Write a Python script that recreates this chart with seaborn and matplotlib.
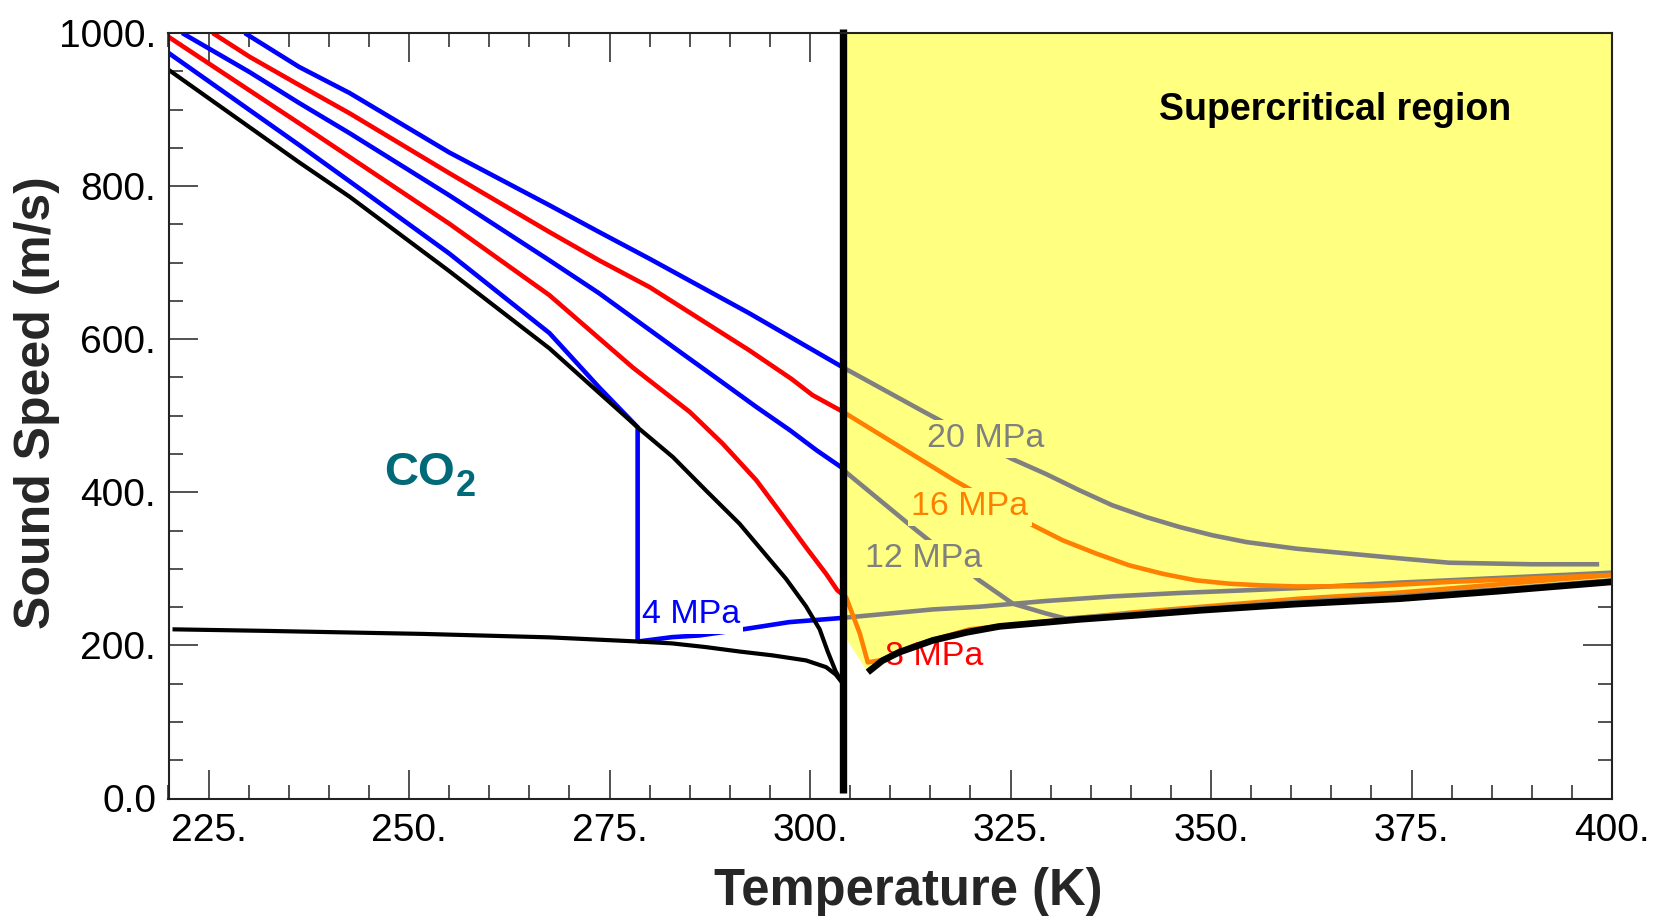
import matplotlib
matplotlib.use("Agg")
import matplotlib.pyplot as plt
import seaborn as sns
from matplotlib.ticker import MultipleLocator, FuncFormatter

# ---------------------------------------------------------------------------
# CO2 sound speed (m/s) versus temperature (K) along isobars
# ---------------------------------------------------------------------------
T_CRIT = 304.13  # critical temperature of CO2, K

# Saturation dome: saturated liquid and saturated vapour branches
sat_liq_T = [220.0, 230.1, 236.3, 242.6, 255.0, 267.5, 278.7, 282.9, 287.0, 291.2, 294.5,
             297.0, 299.5, 301.2, 302.2, 303.2, 304.1]
sat_liq_v = [952, 877, 831, 786, 689, 588, 483, 446, 402.6, 359, 318, 287, 251, 221, 192, 166, 150]
sat_vap_T = [220.5, 232.0, 251.8, 267.5, 278.7, 282.8, 287.0, 291.2, 295.3, 299.5, 302.0, 303.2, 304.1]
sat_vap_v = [221, 219, 215, 210.5, 205, 202.6, 197.8, 192, 187, 180.4, 171.6, 162, 150]

# Dilute-gas limit bounding the supercritical zone from below
gas_T = [307.2, 309.0, 311.1, 315.3, 319.5, 323.6, 333.6, 340.2, 348.6, 360.6, 373.5, 386.0, 400.0]
gas_v = [165, 180, 191, 206.5, 217, 224.8, 234, 239, 245.8, 254, 261, 271, 283]

# 4 MPa: compressed liquid, boiling at 278.5 K, then vapour
p4_liq_T = [220.0, 236.3, 245.0, 255.0, 267.5, 273.7, 278.5]
p4_liq_v = [974, 853.6, 788, 712, 608, 537, 485]
p4_vap_T = [278.5, 282.8, 286.2, 292.0, 297.4, 304.13]
p4_vap_v = [205, 210.8, 213, 221.6, 230.4, 236]
p4_sc_T = [304.13, 315.3, 321.1, 329.4, 337.7, 346.1, 354.4, 361.0, 373.5, 400.0]
p4_sc_v = [236, 247, 250.5, 258, 264, 268.5, 272, 275, 282, 295]

# 8 MPa
p8_sub_T = [220.0, 236.3, 255.0, 267.5, 277.9, 285.0, 289.1, 293.3, 296.2, 299.5, 302.0, 303.4, 304.13]
p8_sub_v = [995, 882, 751, 657.5, 563, 505, 463.6, 415.7, 375, 328, 293.5, 272, 266]
p8_sc_T = [304.13, 304.5, 306.2, 307.2, 309.0, 313.0, 319.9, 340.2, 361.0, 373.5, 400.0]
p8_sc_v = [266, 262.7, 215.7, 177.8, 181, 200, 221, 243, 261, 269, 292]

# 12 MPa
p12_sub_T = [221.7, 230.1, 236.3, 242.6, 255.0, 267.5, 273.7, 284.1, 288.7, 293.3, 297.5, 300.8, 304.13]
p12_sub_v = [1000, 949, 908.5, 869, 788, 703, 660, 581, 546.4, 511.5, 481, 455, 431]
p12_sc_T = [304.13, 304.5, 313.3, 321.1, 325.3, 329.4, 331.9, 340.2, 348.6, 361.0, 373.5, 386.0, 400.0]
p12_sc_v = [431, 426, 350, 285, 254.5, 241.8, 235, 241.5, 248, 257, 264, 273.5, 285]

# 16 MPa
p16_sub_T = [225.5, 230.1, 236.3, 242.6, 255.0, 267.5, 273.7, 280.0, 292.4, 297.7, 300.3, 304.13]
p16_sub_v = [1000, 969, 932, 895, 817, 740, 703, 668, 585.6, 548, 527, 505]
p16_sc_T = [304.13, 318.0, 327.8, 331.5, 335.7, 339.8, 344.0, 348.1, 352.3, 356.4, 360.6, 370.0,
            380.0, 400.0]
p16_sc_v = [505, 415.7, 356.9, 337.3, 319.9, 304.6, 293.5, 285, 280.6, 278.4, 277, 277.5, 283, 292]

# 20 MPa
p20_sub_T = [229.5, 236.3, 242.6, 255.0, 267.5, 273.7, 280.0, 292.4, 304.13]
p20_sub_v = [1000, 955.6, 921.5, 844, 775, 740, 705, 634, 563]
p20_sc_T = [304.13, 314.3, 325.1, 329.4, 333.6, 337.7, 341.9, 346.1, 350.2, 354.4, 360.6, 373.5,
            379.7, 390.0, 398.4]
p20_sc_v = [563, 504.6, 444, 424, 402.6, 383, 367.7, 354.6, 343.8, 335, 326.4, 313.7, 308, 306, 306]

# Isobar labels
label_text = ["20 MPa", "16 MPa", "12 MPa", "8 MPa", "4 MPa"]
label_T = [321.9, 319.9, 314.1, 315.5, 285.15]
label_v = [458.8, 369.9, 302.0, 173.9, 228.8]

x_ticks = [225, 250, 275, 300, 325, 350, 375, 400]
y_ticks = [0, 200, 400, 600, 800, 1000]

# ---------------------------------------------------------------------------
BLUE, RED, GRAY, ORANGE = "#0000FF", "#FF0000", "#808080", "#FF8000"
YELLOW = "#FFFF80"
TEAL = "#006A78"

sns.set_theme(style="ticks")
plt.rcParams["font.family"] = ["Liberation Sans", "DejaVu Sans"]

fig = plt.figure(figsize=(16.63, 9.19), dpi=100)
ax = fig.add_axes([168.5 / 1663, 1 - 798.5 / 919, (1612 - 168.5) / 1663, 765.5 / 919])
ax.set_xlim(220, 400)
ax.set_ylim(0, 1000)

# Supercritical zone shading
poly_T = [T_CRIT, 400.0, 400.0] + gas_T[::-1] + [T_CRIT]
poly_v = [1000.0, 1000.0, gas_v[-1]] + gas_v[::-1] + [215.0]
ax.fill(poly_T, poly_v, color=YELLOW, lw=0, zorder=1)

LW = 3.3


def line(T, v, color, lw=LW, z=2, **kw):
    sns.lineplot(x=T, y=v, ax=ax, color=color, linewidth=lw, sort=False,
                 estimator=None, zorder=z, solid_capstyle="butt",
                 solid_joinstyle="round", **kw)


# Isobars below and above the critical temperature
line(p4_liq_T + [p4_vap_T[0]], p4_liq_v + [p4_vap_v[0]], BLUE, z=4)
line(p4_vap_T, p4_vap_v, BLUE)
line(p4_sc_T, p4_sc_v, GRAY)
line(p8_sub_T, p8_sub_v, RED)
line(p8_sc_T, p8_sc_v, ORANGE)
line(p12_sub_T, p12_sub_v, BLUE)
line(p12_sc_T, p12_sc_v, GRAY)
line(p16_sub_T, p16_sub_v, RED)
line(p16_sc_T, p16_sc_v, ORANGE)
line(p20_sub_T, p20_sub_v, BLUE)
line(p20_sc_T, p20_sc_v, GRAY)

# Saturation dome
line(sat_liq_T, sat_liq_v, "black", lw=3.0, z=4)
line(sat_vap_T, sat_vap_v, "black", lw=3.0, z=4)

# Dilute-gas boundary and critical isotherm
line(gas_T, gas_v, "black", lw=4.8, z=5)
line([T_CRIT, T_CRIT], [7, 1005], "black", lw=5.3, z=6, clip_on=False)

# Isobar labels, knocking out the curve underneath (the 8 MPa one sits on the gas limit)
label_colors = [GRAY, ORANGE, GRAY, RED, BLUE]
label_bg = [YELLOW, YELLOW, YELLOW, None, "white"]
for txt, t, v, c, bg in zip(label_text, label_T, label_v, label_colors, label_bg):
    box = None if bg is None else dict(boxstyle="square,pad=0.1", fc=bg, ec="none")
    ax.text(t, v, txt, color=c, fontsize=24.5, ha="center", va="baseline", zorder=3, bbox=box)

# Annotations
ax.text(246.93, 409.2, "CO", color=TEAL, fontsize=34, fontweight="bold",
        ha="left", va="baseline", zorder=7)
ax.text(255.79, 394.8, "2", color=TEAL, fontsize=26, fontweight="bold",
        ha="left", va="baseline", zorder=7)
ax.text(365.45, 886.3, "Supercritical region", color="black", fontsize=27,
        fontweight="bold", ha="center", va="baseline", zorder=7)

# Axes, ticks and labels
ax.xaxis.set_minor_locator(MultipleLocator(5))
ax.yaxis.set_minor_locator(MultipleLocator(50))
ax.set_xticks(x_ticks)
ax.set_yticks(y_ticks)
ax.xaxis.set_major_formatter(FuncFormatter(lambda x, _: f"{int(round(x))}."))
ax.yaxis.set_major_formatter(FuncFormatter(lambda y, _: "0.0" if y == 0 else f"{int(round(y))}."))

ax.tick_params(which="both", direction="in", top=True, right=True, colors="#222222")
ax.tick_params(which="major", length=21, width=1.1, labelsize=28, labelcolor="black")
ax.tick_params(axis="x", which="major", pad=10.5)
ax.tick_params(axis="y", which="major", pad=9)
ax.tick_params(which="minor", length=10, width=1.1)
for s in ax.spines.values():
    s.set_linewidth(1.5)
    s.set_color("#222222")
    s.set_zorder(8)

ax.set_xlabel("")
ax.set_ylabel("")
fig.text(908 / 1663, 1 - 891 / 919, "Temperature (K)", fontsize=36.5, fontweight="bold",
         ha="center", va="center")
fig.text(37 / 1663, 1 - 403 / 919, "Sound Speed (m/s)", fontsize=36, fontweight="bold",
         ha="center", va="center", rotation=90)

fig.savefig("out.png", dpi=100)
